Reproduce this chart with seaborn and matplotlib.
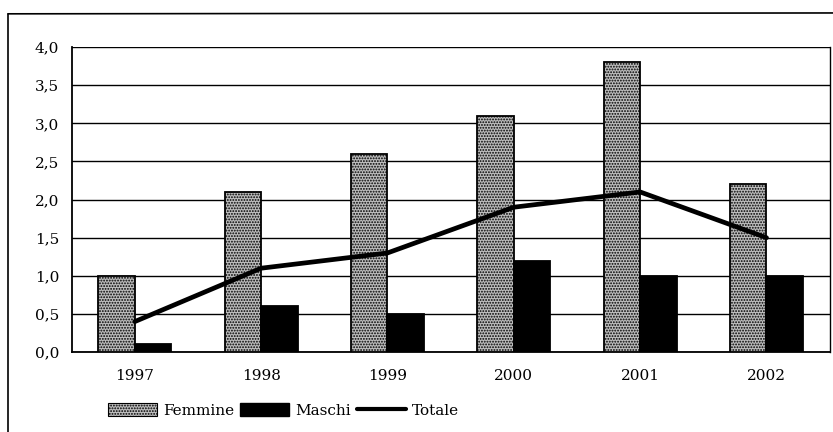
import numpy as np
import pandas as pd
import matplotlib
matplotlib.use("Agg")
import matplotlib.pyplot as plt
from matplotlib.lines import Line2D
from matplotlib.patches import Patch
import seaborn as sns

# dati
anni = ["1997", "1998", "1999", "2000", "2001", "2002"]
femmine = [1.0, 2.1, 2.6, 3.1, 3.8, 2.2]
maschi = [0.1, 0.6, 0.5, 1.2, 1.0, 1.0]
totale = [0.4, 1.1, 1.3, 1.9, 2.1, 1.5]

df = pd.DataFrame({
    "anno": anni * 2,
    "valore": femmine + maschi,
    "serie": ["Femmine"] * len(anni) + ["Maschi"] * len(anni),
})

sns.set_style("white")
plt.rcParams['font.family'] = ['DejaVu Serif']
plt.rcParams['text.color'] = 'black'
plt.rcParams['xtick.color'] = 'black'
plt.rcParams['ytick.color'] = 'black'
plt.rcParams['hatch.color'] = '#555555'
plt.rcParams['hatch.linewidth'] = 0.9

fig = plt.figure(figsize=(8.33, 4.32), dpi=100)
ax = fig.add_axes([0.086, 0.185, 0.91, 0.706])

sns.barplot(data=df, x="anno", y="valore", hue="serie",
            palette={"Femmine": "#bdbdbd", "Maschi": "black"},
            width=0.58, edgecolor="black", linewidth=1.3, gap=0,
            legend=False, ax=ax, zorder=3)

# texture puntinata per Femmine
for p in ax.patches[:len(anni)]:
    p.set_hatch("......")

sns.pointplot(x=anni, y=totale, color="black", markers="", linestyles="-",
              linewidth=3.4, ax=ax, zorder=4)

ax.set_ylim(0, 4.0)
ax.set_xlim(-0.5, len(anni) - 0.5)
ax.set_yticks(np.arange(0, 4.01, 0.5))
ax.set_yticklabels([f"{v:.1f}".replace(".", ",") for v in np.arange(0, 4.01, 0.5)])
ax.yaxis.grid(True, color="black", linewidth=1.0, zorder=0)
ax.set_axisbelow(True)
ax.set_xlabel("")
ax.set_ylabel("")

ax.set_xticks(np.arange(-0.5, len(anni)), minor=True)
ax.tick_params(axis="x", which="major", length=0, pad=12, labelsize=11)
ax.tick_params(axis="x", which="minor", length=5, width=1, direction="out", color="black")
ax.tick_params(axis="y", length=5, width=1, direction="out", color="black", labelsize=11, pad=4)

for s in ["left", "bottom"]:
    ax.spines[s].set_color("black")
    ax.spines[s].set_linewidth(1.3)
ax.spines["top"].set_visible(False)
ax.spines["right"].set_color("black")
ax.spines["right"].set_linewidth(1.0)

handles = [
    Patch(facecolor="#bdbdbd", edgecolor="black", hatch="......", linewidth=0.8),
    Patch(facecolor="black", edgecolor="black"),
    Line2D([0], [0], color="black", linewidth=3),
]
fig.legend(handles, ["Femmine", "Maschi", "Totale"], loc="center left",
           bbox_to_anchor=(0.113, 0.05), ncol=3, frameon=False,
           fontsize=11, handlelength=3.2, handleheight=0.9,
           handletextpad=0.4, columnspacing=0.4)

# cornice esterna
fig.add_artist(Line2D([0.0096, 1.0], [0.968, 0.97], color="black", linewidth=1.2,
                      transform=fig.transFigure))
fig.add_artist(Line2D([0.0096, 0.0096], [0.968, 0.0], color="black", linewidth=1.2,
                      transform=fig.transFigure))

fig.savefig("out.png", dpi=100)
